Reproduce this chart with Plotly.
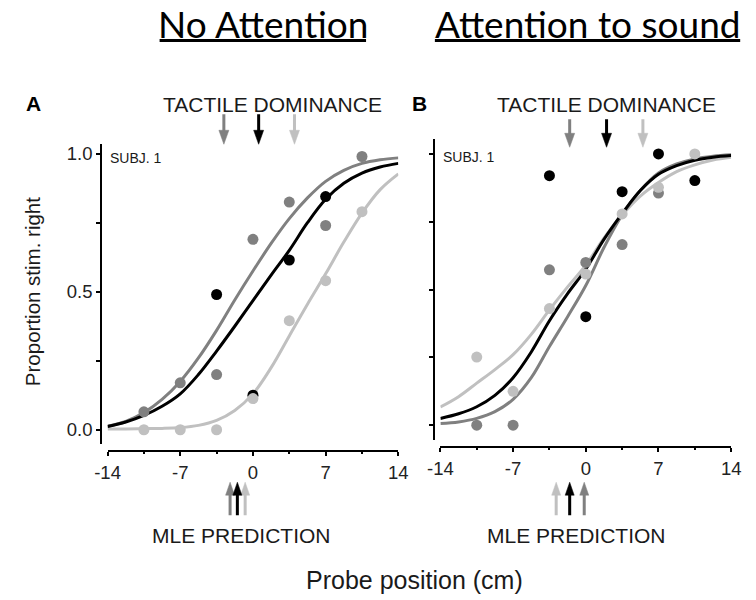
import plotly.graph_objects as go

# page body has an 8px margin, so the figure is laid out in window pixels minus 8
OFF = 8
W, H = 748, 592

# ---------------- data ----------------
curve_x = [-14, -12.25, -10.5, -8.75, -7, -5.25, -3.5, -1.75, 0,
           1.75, 3.5, 5.25, 7, 8.75, 10.5, 12.25, 14]

# Panel A: No Attention
a_gray_x = [-10.5, -7, -3.5, 0, 3.5, 7, 10.5]
a_gray_p = [0.065, 0.17, 0.20, 0.69, 0.825, 0.74, 0.99]
a_black_x = [-3.5, 0, 3.5, 7]
a_black_p = [0.49, 0.125, 0.615, 0.845]
a_light_x = [-10.5, -7, -3.5, 0, 3.5, 7, 10.5]
a_light_p = [0.0, 0.0, 0.0, 0.113, 0.395, 0.54, 0.79]

a_gray_fit = [0.013, 0.03, 0.062, 0.11, 0.175, 0.26, 0.36, 0.47, 0.575,
              0.675, 0.765, 0.84, 0.9, 0.94, 0.965, 0.978, 0.985]
a_black_fit = [0.012, 0.028, 0.052, 0.085, 0.13, 0.2, 0.285, 0.375, 0.468,
               0.56, 0.65, 0.75, 0.835, 0.893, 0.93, 0.952, 0.965]
a_light_fit = [0.003, 0.003, 0.004, 0.005, 0.008, 0.016, 0.034, 0.07, 0.13,
               0.225, 0.34, 0.455, 0.565, 0.68, 0.785, 0.87, 0.927]

# Panel B: Attention to sound
b_gray_x = [-10.5, -7, -3.5, 0, 3.5, 7]
b_gray_p = [0.0, 0.0, 0.573, 0.60, 0.666, 0.856]
b_black_x = [-3.5, 0, 3.5, 7, 10.5]
b_black_p = [0.92, 0.40, 0.861, 1.0, 0.902]
b_light_x = [-10.5, -7, -3.5, 0, 3.5, 7, 10.5]
b_light_p = [0.251, 0.125, 0.43, 0.557, 0.779, 0.877, 1.0]

b_gray_fit = [0.006, 0.012, 0.025, 0.05, 0.095, 0.175, 0.29, 0.40, 0.515,
              0.655, 0.775, 0.865, 0.93, 0.963, 0.982, 0.992, 0.997]
b_black_fit = [0.025, 0.042, 0.068, 0.11, 0.175, 0.27, 0.385, 0.485, 0.575,
               0.685, 0.78, 0.865, 0.925, 0.957, 0.977, 0.988, 0.994]
b_light_fit = [0.067, 0.105, 0.155, 0.205, 0.26, 0.335, 0.425, 0.51, 0.59,
               0.69, 0.775, 0.845, 0.895, 0.935, 0.96, 0.978, 0.988]

# arrow positions (cm)
a_tactile = {"gray": -2.8, "black": 0.55, "light": 4.0}
b_tactile = {"gray": -1.55, "black": 2.0, "light": 5.5}
a_mle = {"gray": -2.2, "light": -0.75, "black": -1.5}
b_mle = {"light": -2.85, "gray": -0.15, "black": -1.55}

x_ticks = [-14, -7, 0, 7, 14]
x_ticktext = ["-14", "-7", "0", "7", "14"]
x_minor = [-10.5, -3.5, 3.5, 10.5]
y_ticks = [0, 0.25, 0.5, 0.75, 1.0]
y_ticktext_a = ["0.0", "", "0.5", "", "1.0"]
y_ticktext_b = ["", "", "", "", ""]

COL = {"gray": "#808080", "black": "#000000", "light": "#c0c0c0"}
FONT = "Liberation Sans, Arial, sans-serif"

fig = go.Figure()


def add_panel(xa, ya, fits, pts):
    for key, fy in fits:
        fig.add_trace(go.Scatter(x=curve_x, y=fy, mode="lines", xaxis=xa, yaxis=ya,
                                 line=dict(color=COL[key], width=3, shape="spline", smoothing=1.0),
                                 hoverinfo="skip", showlegend=False))
    for key, px, py_ in pts:
        fig.add_trace(go.Scatter(x=px, y=py_, mode="markers", xaxis=xa, yaxis=ya,
                                 marker=dict(color=COL[key], size=11, line=dict(width=0)),
                                 cliponaxis=False, showlegend=False))


add_panel("x", "y",
          [("light", a_light_fit), ("gray", a_gray_fit), ("black", a_black_fit)],
          [("black", a_black_x, a_black_p), ("gray", a_gray_x, a_gray_p), ("light", a_light_x, a_light_p)])
add_panel("x2", "y2",
          [("light", b_light_fit), ("gray", b_gray_fit), ("black", b_black_fit)],
          [("black", b_black_x, b_black_p), ("gray", b_gray_x, b_gray_p), ("light", b_light_x, b_light_p)])


def py(px):
    return 1 - (px - OFF) / H


def pxx(px):
    return (px - OFF) / W


axis_common = dict(showgrid=False, zeroline=False, showline=True, linecolor="black", linewidth=2,
                   ticks="outside", tickcolor="black", tickwidth=1.5, ticklen=4,
                   tickfont=dict(family=FONT, size=18.5, color="#222"))
minor = dict(tickmode="array", tickvals=x_minor, ticklen=2, ticks="outside", tickcolor="black", tickwidth=1.5)

fig.update_layout(
    width=W, height=H, margin=dict(l=0, r=0, t=0, b=0),
    plot_bgcolor="white", paper_bgcolor="white", showlegend=False,
    xaxis=dict(domain=[pxx(97.3), pxx(397.3)], range=[-14, 14], anchor="free", position=py(450.7),
               tickmode="array", tickvals=x_ticks, ticktext=x_ticktext, minor=minor,
               ticklabelstandoff=1, **axis_common),
    yaxis=dict(domain=[py(443.3), py(143.3)], range=[-0.05, 1.035], anchor="free", position=pxx(90.7),
               tickmode="array", tickvals=y_ticks, ticktext=y_ticktext_a, **axis_common),
    xaxis2=dict(domain=[pxx(440.7), pxx(740.7)], range=[-14, 14], anchor="free", position=py(446.7),
                tickmode="array", tickvals=x_ticks, ticktext=x_ticktext, minor=minor,
                ticklabelstandoff=1, **axis_common),
    yaxis2=dict(domain=[py(439.3), py(138)], range=[-0.053, 1.056], anchor="free", position=pxx(434.3),
                tickmode="array", tickvals=y_ticks, ticktext=y_ticktext_b, **axis_common),
)

ann = []


def text(t, x, y, size, family=FONT, color="#1a1a1a", angle=0, xanchor="center"):
    ann.append(dict(text=t, x=x, y=y, xref="paper", yref="paper", showarrow=False,
                    font=dict(family=family, size=size, color=color), textangle=angle,
                    xanchor=xanchor, yanchor="middle"))


TITLE_FONT = "Lato, Open Sans, sans-serif"
text("No Attention", pxx(257.5), py(22.5), 37, family=TITLE_FONT, color="#000")
text("Attention to sound", pxx(592.5), py(22.5), 37, family=TITLE_FONT, color="#000")
text("<b>A</b>", pxx(20.5), py(102.5), 21, color="#000")
text("<b>B</b>", pxx(419), py(102.5), 21, color="#000")
text("TACTILE DOMINANCE", pxx(267), py(103.3), 21)
text("TACTILE DOMINANCE", pxx(612), py(103.3), 21)
text("MLE PREDICTION", pxx(235), py(535), 21)
text("MLE PREDICTION", pxx(581.5), py(535), 21)
text("Probe position (cm)", pxx(414), py(580), 25)
text("Proportion stim. right", pxx(20), py(291), 20.5, angle=-90)
text("SUBJ. 1", pxx(98), py(157.7), 14, xanchor="left")
text("SUBJ. 1", pxx(441.5), py(156.7), 14, xanchor="left")

shapes = []
# title underlines
for x0, x1 in [(151, 364), (435, 750)]:
    shapes.append(dict(type="line", xref="paper", yref="paper", x0=pxx(x0), x1=pxx(x1),
                       y0=py(39.5), y1=py(39.5), line=dict(color="black", width=3)))


def arrow(xref, v, color, tip_px, down, shaft=30, head=14, hw=5):
    s = 1 if down else -1
    common = dict(xref=xref, yref="paper", xsizemode="pixel", ysizemode="pixel",
                  xanchor=v, yanchor=py(tip_px), layer="above")
    shapes.append(dict(type="path", path=f"M 0,{s*(head-1)} L 0,{s*shaft}",
                       line=dict(color=color, width=3), **common))
    shapes.append(dict(type="path", path=f"M {-hw},{s*head} L {hw},{s*head} L 0,0 Z",
                       fillcolor=color, line=dict(color=color, width=0.5), **common))


for key in ["gray", "black", "light"]:
    arrow("x", a_tactile[key], COL[key], 143.5, True, shaft=30)
    arrow("x2", b_tactile[key], COL[key], 146.5, True, shaft=28)
for key in ["gray", "light", "black"]:
    arrow("x", a_mle[key], COL[key], 482, False, shaft=33, head=13, hw=4.5)
for key in ["light", "gray", "black"]:
    arrow("x2", b_mle[key], COL[key], 482, False, shaft=33, head=13, hw=4.5)

fig.update_layout(annotations=ann, shapes=shapes)
fig.write_html("out.html")
